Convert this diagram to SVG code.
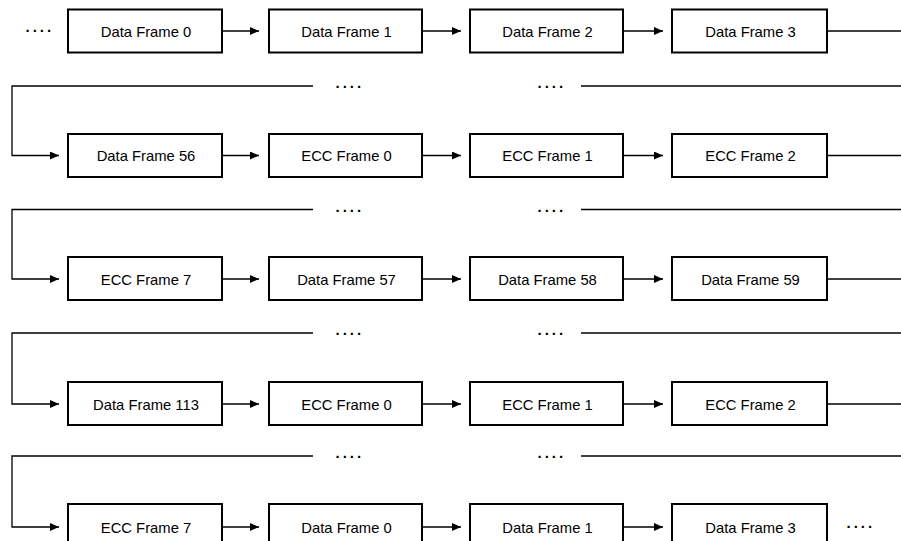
<svg xmlns="http://www.w3.org/2000/svg" width="901" height="541" viewBox="0 0 901 541">
  <style>
    .box { fill: #ffffff; stroke: #000000; stroke-width: 2; }
    .lbl { font-family: "Liberation Sans", Arial, sans-serif; font-size: 14.8px; fill: #000000; text-anchor: middle; }
    .dots { font-family: "Liberation Sans", Arial, sans-serif; font-size: 15px; fill: #000000; letter-spacing: 3px; font-weight: bold; }
    .wire { fill: none; stroke: #000000; stroke-width: 1.3; }
  </style>
  <defs>
    <marker id="arrow" markerWidth="10" markerHeight="8" refX="9" refY="4" orient="auto" markerUnits="userSpaceOnUse">
      <path d="M0,0 L9,4 L0,8 Z" fill="#000000"/>
    </marker>
  </defs>

  <!-- connectors -->
  <g id="connectors">
    <!-- row 1 -->
    <line class="wire" x1="222" y1="31" x2="259" y2="31" marker-end="url(#arrow)"/>
    <line class="wire" x1="422" y1="31" x2="461" y2="31" marker-end="url(#arrow)"/>
    <line class="wire" x1="623" y1="31" x2="663" y2="31" marker-end="url(#arrow)"/>
    <line class="wire" x1="827" y1="31" x2="901" y2="31"/>
    <!-- wrap 1 -> 2 -->
    <polyline class="wire" points="313,86 12,86 12,155.5 59,155.5" marker-end="url(#arrow)"/>
    <line class="wire" x1="581" y1="86" x2="901" y2="86"/>
    <!-- row 2 -->
    <line class="wire" x1="222" y1="155.5" x2="259" y2="155.5" marker-end="url(#arrow)"/>
    <line class="wire" x1="422" y1="155.5" x2="461" y2="155.5" marker-end="url(#arrow)"/>
    <line class="wire" x1="623" y1="155.5" x2="663" y2="155.5" marker-end="url(#arrow)"/>
    <line class="wire" x1="827" y1="155.5" x2="901" y2="155.5"/>
    <!-- wrap 2 -> 3 -->
    <polyline class="wire" points="313,209.5 12,209.5 12,279 59,279" marker-end="url(#arrow)"/>
    <line class="wire" x1="581" y1="209.5" x2="901" y2="209.5"/>
    <!-- row 3 -->
    <line class="wire" x1="222" y1="279" x2="259" y2="279" marker-end="url(#arrow)"/>
    <line class="wire" x1="422" y1="279" x2="461" y2="279" marker-end="url(#arrow)"/>
    <line class="wire" x1="623" y1="279" x2="663" y2="279" marker-end="url(#arrow)"/>
    <line class="wire" x1="827" y1="279" x2="901" y2="279"/>
    <!-- wrap 3 -> 4 -->
    <polyline class="wire" points="313,333 12,333 12,404 59,404" marker-end="url(#arrow)"/>
    <line class="wire" x1="581" y1="333" x2="901" y2="333"/>
    <!-- row 4 -->
    <line class="wire" x1="222" y1="404" x2="259" y2="404" marker-end="url(#arrow)"/>
    <line class="wire" x1="422" y1="404" x2="461" y2="404" marker-end="url(#arrow)"/>
    <line class="wire" x1="623" y1="404" x2="663" y2="404" marker-end="url(#arrow)"/>
    <line class="wire" x1="827" y1="404" x2="901" y2="404"/>
    <!-- wrap 4 -> 5 -->
    <polyline class="wire" points="313,456 12,456 12,527 59,527" marker-end="url(#arrow)"/>
    <line class="wire" x1="581" y1="456" x2="901" y2="456"/>
    <!-- row 5 -->
    <line class="wire" x1="222" y1="527" x2="259" y2="527" marker-end="url(#arrow)"/>
    <line class="wire" x1="422" y1="527" x2="461" y2="527" marker-end="url(#arrow)"/>
    <line class="wire" x1="623" y1="527" x2="663" y2="527" marker-end="url(#arrow)"/>
  </g>

  <!-- ellipsis marks -->
  <g id="ellipses">
    <text class="dots" x="25.5" y="32">....</text>
    <text class="dots" x="335.5" y="88">....</text>
    <text class="dots" x="537.5" y="88">....</text>
    <text class="dots" x="335.5" y="211.5">....</text>
    <text class="dots" x="537.5" y="211.5">....</text>
    <text class="dots" x="335.5" y="335">....</text>
    <text class="dots" x="537.5" y="335">....</text>
    <text class="dots" x="335.5" y="458">....</text>
    <text class="dots" x="537.5" y="458">....</text>
    <text class="dots" x="846.5" y="528">....</text>
  </g>

  <!-- row 1 -->
  <g id="r1n1"><rect class="box" x="68" y="9.5" width="154" height="43"/><text class="lbl" x="146" y="36.5">Data Frame 0</text></g>
  <g id="r1n2"><rect class="box" x="269" y="9.5" width="153" height="43"/><text class="lbl" x="346.5" y="36.5">Data Frame 1</text></g>
  <g id="r1n3"><rect class="box" x="470" y="9.5" width="153" height="43"/><text class="lbl" x="547.5" y="36.5">Data Frame 2</text></g>
  <g id="r1n4"><rect class="box" x="672" y="9.5" width="155" height="43"/><text class="lbl" x="750.5" y="36.5">Data Frame 3</text></g>

  <!-- row 2 -->
  <g id="r2n1"><rect class="box" x="68" y="134" width="154" height="43"/><text class="lbl" x="146" y="161">Data Frame 56</text></g>
  <g id="r2n2"><rect class="box" x="269" y="134" width="153" height="43"/><text class="lbl" x="346.5" y="161">ECC Frame 0</text></g>
  <g id="r2n3"><rect class="box" x="470" y="134" width="153" height="43"/><text class="lbl" x="547.5" y="161">ECC Frame 1</text></g>
  <g id="r2n4"><rect class="box" x="672" y="134" width="155" height="43"/><text class="lbl" x="750.5" y="161">ECC Frame 2</text></g>

  <!-- row 3 -->
  <g id="r3n1"><rect class="box" x="68" y="257" width="154" height="43"/><text class="lbl" x="146" y="284.5">ECC Frame 7</text></g>
  <g id="r3n2"><rect class="box" x="269" y="257" width="153" height="43"/><text class="lbl" x="346.5" y="284.5">Data Frame 57</text></g>
  <g id="r3n3"><rect class="box" x="470" y="257" width="153" height="43"/><text class="lbl" x="547.5" y="284.5">Data Frame 58</text></g>
  <g id="r3n4"><rect class="box" x="672" y="257" width="155" height="43"/><text class="lbl" x="750.5" y="284.5">Data Frame 59</text></g>

  <!-- row 4 -->
  <g id="r4n1"><rect class="box" x="68" y="382" width="154" height="43"/><text class="lbl" x="146" y="409.5">Data Frame 113</text></g>
  <g id="r4n2"><rect class="box" x="269" y="382" width="153" height="43"/><text class="lbl" x="346.5" y="409.5">ECC Frame 0</text></g>
  <g id="r4n3"><rect class="box" x="470" y="382" width="153" height="43"/><text class="lbl" x="547.5" y="409.5">ECC Frame 1</text></g>
  <g id="r4n4"><rect class="box" x="672" y="382" width="155" height="43"/><text class="lbl" x="750.5" y="409.5">ECC Frame 2</text></g>

  <!-- row 5 -->
  <g id="r5n1"><rect class="box" x="68" y="504" width="154" height="43"/><text class="lbl" x="146" y="532.5">ECC Frame 7</text></g>
  <g id="r5n2"><rect class="box" x="269" y="504" width="153" height="43"/><text class="lbl" x="346.5" y="532.5">Data Frame 0</text></g>
  <g id="r5n3"><rect class="box" x="470" y="504" width="153" height="43"/><text class="lbl" x="547.5" y="532.5">Data Frame 1</text></g>
  <g id="r5n4"><rect class="box" x="672" y="504" width="155" height="43"/><text class="lbl" x="750.5" y="532.5">Data Frame 3</text></g>
</svg>
